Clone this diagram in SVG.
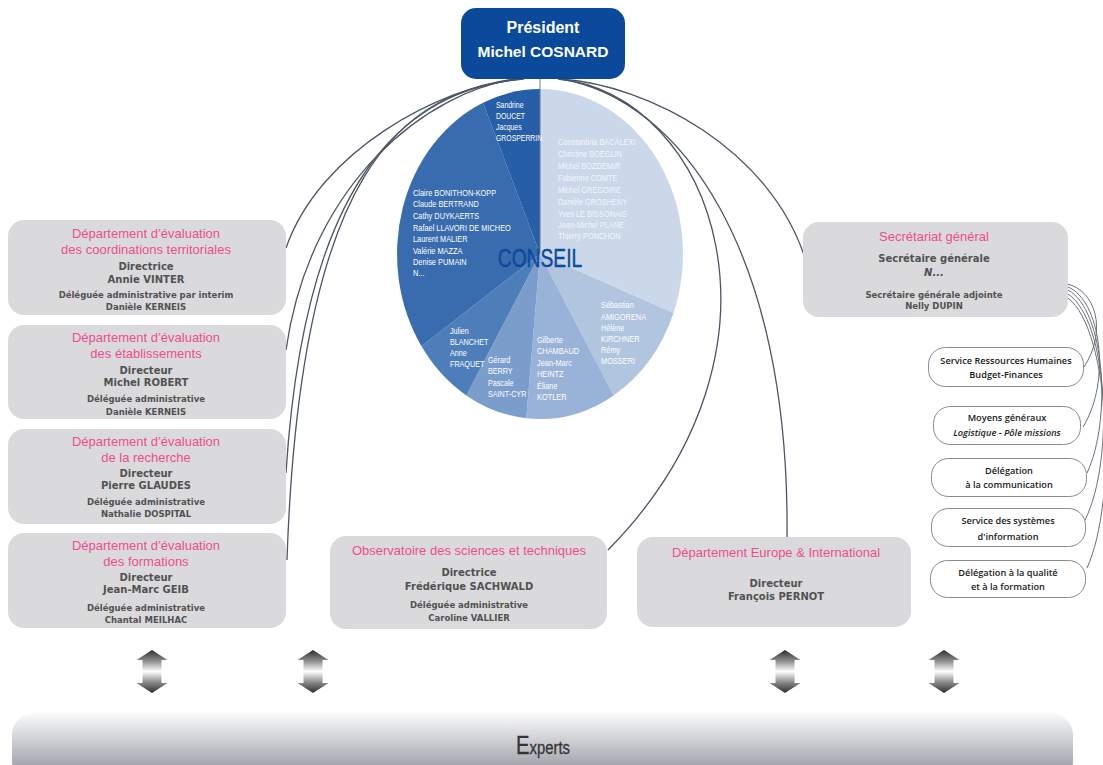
<svg xmlns="http://www.w3.org/2000/svg" width="1103" height="765" viewBox="0 0 1103 765">
<defs>
<linearGradient id="arrowGrad" x1="0" y1="0" x2="0" y2="1">
<stop offset="0" stop-color="#2e2e2e"/>
<stop offset="0.25" stop-color="#8a8a8a"/>
<stop offset="0.5" stop-color="#ffffff"/>
<stop offset="0.75" stop-color="#8a8a8a"/>
<stop offset="1" stop-color="#2e2e2e"/>
</linearGradient>
<linearGradient id="expGrad" x1="0" y1="0" x2="0" y2="1">
<stop offset="0" stop-color="#fbfbfb"/>
<stop offset="1" stop-color="#868a94"/>
</linearGradient>
</defs>
<style>
.box{fill:#dadadc}
.svcbox{fill:#ffffff;stroke:#8a8a8a;stroke-width:1}
.conn{fill:none;stroke:#4d5563;stroke-width:1.3}
.sconn{fill:none;stroke:#6a707a;stroke-width:1}
.pk{font-family:"Liberation Sans",Arial,sans-serif;font-size:13px;fill:#ee4d8d;text-anchor:middle}
.dir{font-family:"DejaVu Sans",sans-serif;font-weight:bold;font-size:10px;fill:#515151;text-anchor:middle}
.del{font-family:"DejaVu Sans",sans-serif;font-weight:bold;font-size:8.5px;fill:#515151;text-anchor:middle}
.pie{font-family:"Liberation Sans",Arial,sans-serif;font-size:9.7px;fill:#ffffff}
.pie2{font-family:"Liberation Sans",Arial,sans-serif;font-size:9.7px;fill:#f3f6fb}
.svc{font-family:"Open Sans","DejaVu Sans",sans-serif;font-weight:600;font-size:9.2px;fill:#1a1a1a;text-anchor:middle}
</style>

<g id="connectors">
<line x1="540" y1="78" x2="540" y2="254" stroke="#6b7a90" stroke-width="1"/>
<path class="conn" d="M515,79 C440,88 320,150 286,248"/>
<path class="conn" d="M518,79 C430,90 310,180 286,350"/>
<path class="conn" d="M521,79 C410,90 305,170 286,473"/>
<path class="conn" d="M524,79 C400,90 300,170 287,560"/>
<path class="conn" d="M560,79 C650,85 770,150 805,258"/>
<path class="conn" d="M558,79 C715,95 805,350 608,550"/>
<path class="conn" d="M562,79 C680,100 790,250 787,537"/>
<path class="sconn" d="M1067,284 C1095,290 1108,330 1084,367"/>
<path class="sconn" d="M1068,287 C1100,300 1112,380 1083,427"/>
<path class="sconn" d="M1068,290 C1105,310 1112,420 1087,473"/>
<path class="sconn" d="M1068,294 C1108,320 1115,460 1085,520"/>
<path class="sconn" d="M1068,298 C1110,330 1118,500 1087,568"/>
</g>

<g id="president">
<rect x="461" y="8" width="164" height="71" rx="15" fill="#0b4a9b"/>
<text x="543" y="33" font-family="Liberation Sans,Arial,sans-serif" font-weight="bold" font-size="16" fill="#ffffff" text-anchor="middle">Président</text>
<text x="543" y="57" font-family="Liberation Sans,Arial,sans-serif" font-weight="bold" font-size="15.5" fill="#ffffff" text-anchor="middle">Michel COSNARD</text>
</g>

<g id="conseil">
<path d="M540,254 L540,89 A143,165 0 0 1 673.5,313.1 Z" fill="#cad8ea"/>
<path d="M540,254 L673.5,313.1 A143,165 0 0 1 613.6,395.4 Z" fill="#b1c5df"/>
<path d="M540,254 L613.6,395.4 A143,165 0 0 1 526.3,418.2 Z" fill="#98b3d7"/>
<path d="M540,254 L526.3,418.2 A143,165 0 0 1 466.3,395.4 Z" fill="#7b9dcb"/>
<path d="M540,254 L466.3,395.4 A143,165 0 0 1 421.5,346.3 Z" fill="#4e7eba"/>
<path d="M540,254 L421.5,346.3 A143,165 0 0 1 483,102.7 Z" fill="#386cae"/>
<path d="M540,254 L483,102.7 A143,165 0 0 1 540,89 Z" fill="#275ea8"/>
<line x1="540" y1="89" x2="540" y2="254" stroke="#6b7a90" stroke-width="1"/>

<text class="pie" style="font-size:9.3px" transform="matrix(0.74 0 0 1 128.96 0)"><tspan x="496" y="108">Sandrine</tspan><tspan x="496" y="119">DOUCET</tspan><tspan x="496" y="130">Jacques</tspan><tspan x="496" y="141">GROSPERRIN</tspan></text>

<text class="pie2" transform="matrix(0.761 0 0 1 133.36 0)"><tspan x="558" y="145">Constantina BACALEXI</tspan><tspan x="558" y="157">Christine BOEGLIN</tspan><tspan x="558" y="169">Michel BOZDEMIR</tspan><tspan x="558" y="181">Fabienne COMTE</tspan><tspan x="558" y="193">Michel GRÉGOIRE</tspan><tspan x="558" y="205.5">Danièle GROSHENY</tspan><tspan x="558" y="217">Yves LE BISSONAIS</tspan><tspan x="558" y="228">Jean-Michel PLANE</tspan><tspan x="558" y="239">Thierry PONCHON</tspan></text>

<text class="pie" transform="matrix(0.761 0 0 1 98.71 0)"><tspan x="413" y="196">Claire BONITHON-KOPP</tspan><tspan x="413" y="207.5">Claude BERTRAND</tspan><tspan x="413" y="219.5">Cathy DUYKAERTS</tspan><tspan x="413" y="231">Rafael LLAVORI DE MICHEO</tspan><tspan x="413" y="242.5">Laurent MALIER</tspan><tspan x="413" y="254">Valérie MAZZA</tspan><tspan x="413" y="265">Denise PUMAIN</tspan><tspan x="413" y="276">N...</tspan></text>

<text class="pie" transform="matrix(0.742 0 0 1 116.1 0)"><tspan x="450" y="334">Julien</tspan><tspan x="450" y="345">BLANCHET</tspan><tspan x="450" y="356">Anne</tspan><tspan x="450" y="367">FRAQUET</tspan></text>

<text class="pie" transform="matrix(0.742 0 0 1 125.9 0)"><tspan x="488" y="363">Gérard</tspan><tspan x="488" y="374.5">BERRY</tspan><tspan x="488" y="386">Pascale</tspan><tspan x="488" y="397">SAINT-CYR</tspan></text>

<text class="pie" transform="matrix(0.761 0 0 1 128.34 0)"><tspan x="537" y="343">Gilberte</tspan><tspan x="537" y="354">CHAMBAUD</tspan><tspan x="537" y="366">Jean-Marc</tspan><tspan x="537" y="377">HEINTZ</tspan><tspan x="537" y="389">Éliane</tspan><tspan x="537" y="400">KOTLER</tspan></text>

<text class="pie" transform="matrix(0.761 0 0 1 143.64 0)"><tspan x="601" y="308">Sébastian</tspan><tspan x="601" y="320">AMIGORENA</tspan><tspan x="601" y="331">Hélène</tspan><tspan x="601" y="342">KIRCHNER</tspan><tspan x="601" y="353">Rémy</tspan><tspan x="601" y="364">MOSSERI</tspan></text>

<text x="540" y="267" font-family="Liberation Sans,Arial,sans-serif" font-size="25" fill="#0d4a9c" stroke="#0d4a9c" stroke-width="0.4" text-anchor="middle" transform="matrix(0.77 0 0 1 124.2 0)">CONSEIL</text>
</g>

<g id="dept-coordinations">
<rect class="box" x="8" y="220" width="278" height="95" rx="16"/>
<text class="pk" x="146" y="237.5">Département d’évaluation</text>
<text class="pk" x="146" y="253.5">des coordinations territoriales</text>
<text class="dir" x="146" y="269.5">Directrice</text>
<text class="dir" x="146" y="282.5">Annie VINTER</text>
<text class="del" x="146" y="298">Déléguée administrative par interim</text>
<text class="del" x="146" y="310">Danièle KERNEIS</text>
</g>

<g id="dept-etablissements">
<rect class="box" x="8" y="325" width="278" height="94" rx="16"/>
<text class="pk" x="146" y="341.5">Département d’évaluation</text>
<text class="pk" x="146" y="357.5">des établissements</text>
<text class="dir" x="146" y="373.5">Directeur</text>
<text class="dir" x="146" y="385.5">Michel ROBERT</text>
<text class="del" x="146" y="402">Déléguée administrative</text>
<text class="del" x="146" y="415">Danièle KERNEIS</text>
</g>

<g id="dept-recherche">
<rect class="box" x="8" y="429" width="278" height="95" rx="16"/>
<text class="pk" x="146" y="445.5">Département d’évaluation</text>
<text class="pk" x="146" y="461.5">de la recherche</text>
<text class="dir" x="146" y="476.5">Directeur</text>
<text class="dir" x="146" y="488.5">Pierre GLAUDES</text>
<text class="del" x="146" y="505">Déléguée administrative</text>
<text class="del" x="146" y="517">Nathalie DOSPITAL</text>
</g>

<g id="dept-formations">
<rect class="box" x="8" y="533" width="278" height="95" rx="16"/>
<text class="pk" x="146" y="549.5">Département d’évaluation</text>
<text class="pk" x="146" y="565.5">des formations</text>
<text class="dir" x="146" y="580.5">Directeur</text>
<text class="dir" x="146" y="592.5">Jean-Marc GEIB</text>
<text class="del" x="146" y="611">Déléguée administrative</text>
<text class="del" x="146" y="623">Chantal MEILHAC</text>
</g>

<g id="observatoire">
<rect class="box" x="330" y="536" width="277" height="93" rx="16"/>
<text class="pk" x="469" y="554.5">Observatoire des sciences et techniques</text>
<text class="dir" x="469" y="575.5">Directrice</text>
<text class="dir" x="469" y="589.5">Frédérique SACHWALD</text>
<text class="del" x="469" y="608">Déléguée administrative</text>
<text class="del" x="469" y="621">Caroline VALLIER</text>
</g>

<g id="europe">
<rect class="box" x="637" y="537" width="274" height="90" rx="16"/>
<text class="pk" x="776" y="556.5">Département Europe &amp; International</text>
<text class="dir" x="776" y="586.5">Directeur</text>
<text class="dir" x="776" y="599.5">François PERNOT</text>
</g>

<g id="secretariat">
<rect class="box" x="803" y="222" width="265" height="95" rx="16"/>
<text class="pk" x="934" y="240.5">Secrétariat général</text>
<text class="dir" x="934" y="261.5">Secrétaire générale</text>
<text class="dir" x="934" y="275.5" font-style="italic">N...</text>
<text class="del" x="934" y="298">Secrétaire générale adjointe</text>
<text class="del" x="934" y="308.5">Nelly DUPIN</text>
</g>

<g id="service-rh">
<rect class="svcbox" x="928.5" y="347.5" width="155" height="39" rx="17"/>
<text class="svc" x="1006" y="363.5">Service Ressources Humaines</text>
<text class="svc" x="1006" y="377.5">Budget-Finances</text>
</g>

<g id="moyens-generaux">
<rect class="svcbox" x="933.5" y="406.5" width="147" height="38" rx="17"/>
<text class="svc" x="1007" y="420.5">Moyens généraux</text>
<text class="svc" x="1007" y="435.5" font-style="italic" font-weight="normal">Logistique - Pôle missions</text>
</g>

<g id="delegation-communication">
<rect class="svcbox" x="931.5" y="458.5" width="155" height="38" rx="17"/>
<text class="svc" x="1009" y="473.5">Délégation</text>
<text class="svc" x="1009" y="487.5">à la communication</text>
</g>

<g id="systemes-information">
<rect class="svcbox" x="931.5" y="508.5" width="154" height="38" rx="17"/>
<text class="svc" x="1008" y="523.5">Service des systèmes</text>
<text class="svc" x="1008" y="539.5">d'information</text>
</g>

<g id="delegation-qualite">
<rect class="svcbox" x="930.5" y="560.5" width="155" height="37" rx="17"/>
<text class="svc" x="1008" y="575.5">Délégation à la qualité</text>
<text class="svc" x="1008" y="589.5">et à la formation</text>
</g>

<g id="arrows">
<path fill="url(#arrowGrad)" d="M152,650 L167.5,660 L161.5,660 L161.5,683 L167.5,683 L152,693 L136.5,683 L142.5,683 L142.5,660 L136.5,660 Z"/>
<path fill="url(#arrowGrad)" d="M313,650 L328.5,660 L322.5,660 L322.5,683 L328.5,683 L313,693 L297.5,683 L303.5,683 L303.5,660 L297.5,660 Z"/>
<path fill="url(#arrowGrad)" d="M785,650 L800.5,660 L794.5,660 L794.5,683 L800.5,683 L785,693 L769.5,683 L775.5,683 L775.5,660 L769.5,660 Z"/>
<path fill="url(#arrowGrad)" d="M944,650 L959.5,660 L953.5,660 L953.5,683 L959.5,683 L944,693 L928.5,683 L934.5,683 L934.5,660 L928.5,660 Z"/>
</g>

<g id="experts">
<rect x="12" y="713" width="1061" height="70" rx="22" fill="url(#expGrad)"/>
<text x="543" y="754" font-family="Liberation Sans,Arial,sans-serif" fill="#333333" stroke="#333333" stroke-width="0.3" text-anchor="middle" transform="matrix(0.78 0 0 1 119.46 0)"><tspan font-size="26">E</tspan><tspan font-size="19">xperts</tspan></text>
</g>
</svg>
